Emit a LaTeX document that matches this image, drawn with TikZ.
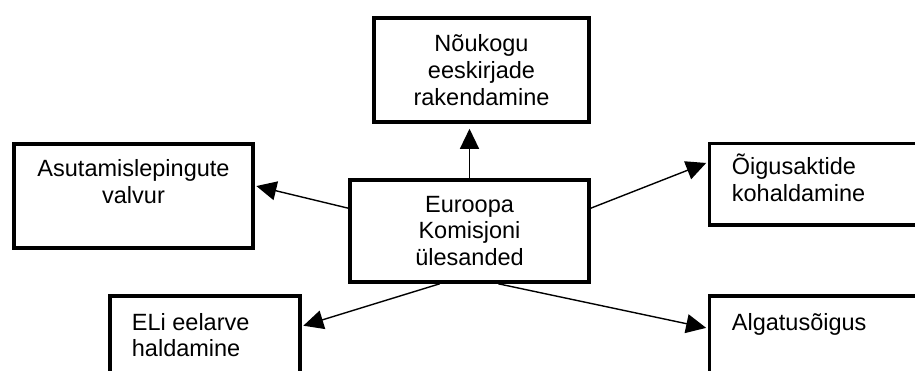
\documentclass[tikz,border=0pt]{standalone}
\usepackage{fontspec}
\setmainfont{Liberation Sans}
\usetikzlibrary{arrows.meta,calc}
\tikzset{
  box/.style={draw=black, line width=3.6pt, rectangle, inner sep=0pt},
  txt/.style={font=\fontsize{23.5}{26.7}\selectfont, inner sep=0pt},
  arr/.style={draw=black, line width=1.4pt, -{Triangle[length=20pt,width=19pt]}},
}
\begin{document}
\begin{tikzpicture}[x=1pt,y=-1pt]
\useasboundingbox (0,0) rectangle (915,371);
\clip (0,0) rectangle (915,371);
% boxes
\node[box, minimum width=215pt, minimum height=104pt] (nou) at (481.5,70) {};
\node[box, minimum width=239pt, minimum height=102pt] (cen) at (469.5,231) {};
\node[box, minimum width=239pt, minimum height=104pt] (asu) at (133.5,196) {};
\node[box, minimum width=239pt, minimum height=81.5pt] (oig) at (829,184.25) {};
\node[box, minimum width=190pt, minimum height=104pt] (eli) at (205,348) {};
\node[box, minimum width=239pt, minimum height=104pt] (alg) at (829,348) {};
% texts (base anchor = baseline of last line)
\node[txt, align=center, anchor=base] (tnou) at (481.5,105.4) {Nõukogu\\eeskirjade\\rakendamine};
\node[txt, align=center, anchor=base] (tcen) at (469.5,265.4) {Euroopa\\Komisjoni\\ülesanded};
\node[txt, align=center, anchor=base] (tasu) at (133.5,203.7) {Asutamislepingute\\valvur};
\node[txt, align=left, anchor=base west] (toig) at (731.7,201.7) {Õigusaktide\\kohaldamine};
\node[txt, align=left, anchor=base west] (teli) at (131.7,356.7) {ELi eelarve\\haldamine};
\node[txt, align=left, anchor=base west] (talg) at (731.7,330) {Algatusõigus};
% arrows
\draw[arr, shorten >=5pt] (cen.north) -- (cen.north |- nou.south);
\draw[arr, shorten >=1.6pt] ($(cen.north west)!0.284!(cen.south west)$) -- ($(asu.north east)!0.404!(asu.south east)$);
\draw[arr, shorten >=1.6pt] ($(cen.north east)!0.284!(cen.south east)$) -- ($(oig.north west)!0.243!(oig.south west)$);
\draw[arr, shorten >=1.6pt] ($(cen.south west)!0.377!(cen.south east)$) -- ([yshift=-32pt]eli.north east);
\draw[arr, shorten >=1.6pt] ($(cen.south west)!0.619!(cen.south east)$) -- ([yshift=-34pt]alg.north west);
\end{tikzpicture}
\end{document}
